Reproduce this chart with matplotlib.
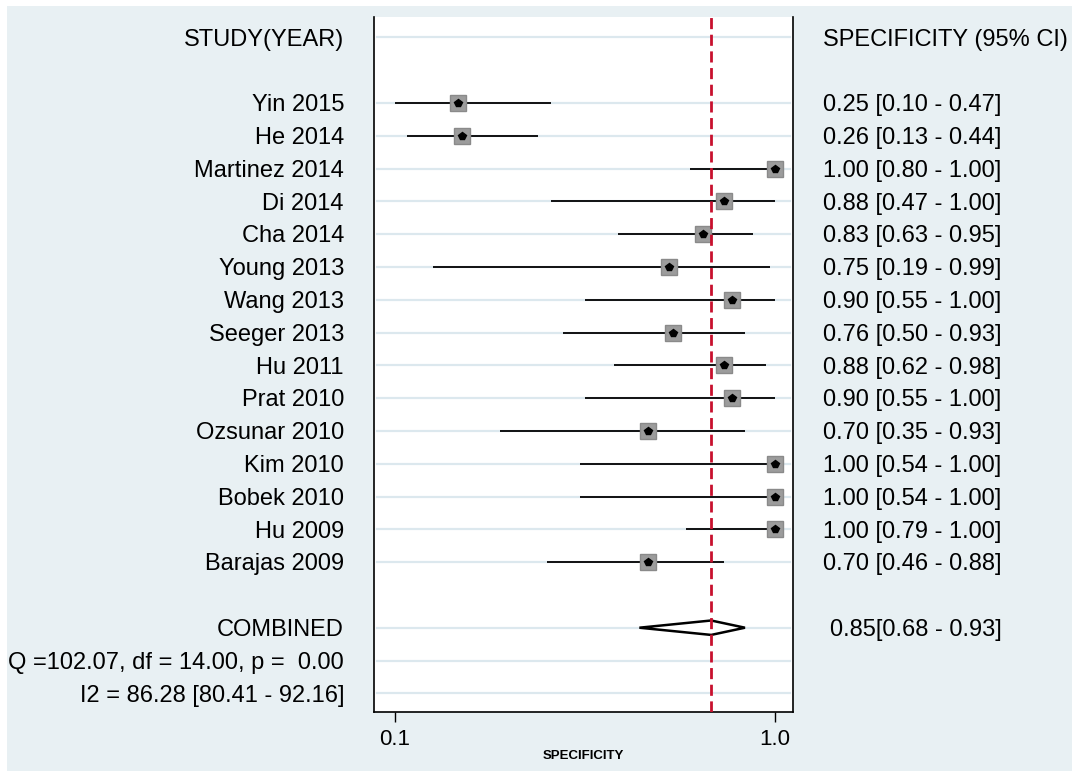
import matplotlib
matplotlib.use("Agg")
import matplotlib.pyplot as plt
from matplotlib.transforms import blended_transform_factory
from matplotlib.patches import Rectangle, Polygon

plt.rcParams['font.family'] = ['Liberation Sans', 'DejaVu Sans']

studies = ["Yin 2015", "He 2014", "Martinez 2014", "Di 2014", "Cha 2014",
           "Young 2013", "Wang 2013", "Seeger 2013", "Hu 2011", "Prat 2010",
           "Ozsunar 2010", "Kim 2010", "Bobek 2010", "Hu 2009", "Barajas 2009"]
spec = [0.25, 0.26, 1.00, 0.88, 0.83, 0.75, 0.90, 0.76, 0.88, 0.90, 0.70, 1.00, 1.00, 1.00, 0.70]
ci_lo = [0.10, 0.13, 0.80, 0.47, 0.63, 0.19, 0.55, 0.50, 0.62, 0.55, 0.35, 0.54, 0.54, 0.79, 0.46]
ci_hi = [0.47, 0.44, 1.00, 1.00, 0.95, 0.99, 1.00, 0.93, 0.98, 1.00, 0.93, 1.00, 1.00, 1.00, 0.88]
combined = 0.85
combined_lo = 0.68
combined_hi = 0.93
q_text = "Q =102.07, df = 14.00, p =  0.00"
i2_text = "I2 = 86.28 [80.41 - 92.16]"
xticks = [0.1, 1.0]
xticklabels = ["0.1", "1.0"]

W, H = 1072, 771
fig = plt.figure(figsize=(W / 100, H / 100), dpi=100)
fig.patch.set_facecolor('white')
bg = "#e8f0f3"
fig.patches.append(Rectangle((7 / W, 0), 1, 1 - 6 / H, transform=fig.transFigure,
                             facecolor=bg, edgecolor='none', zorder=-10))

L, R, T, B = 374, 793, 17, 712
ax = fig.add_axes([L / W, 1 - B / H, (R - L) / W, (B - T) / H])
ax.set_facecolor('white')

px_per_unit = (774.5 - 394.5) / 0.9
x0 = 0.1 - (394.5 - L) / px_per_unit
x1 = 1.0 + (R - 774.5) / px_per_unit
ax.set_xlim(x0, x1)
ax.set_ylim(20.57, -0.62)

rows = [2 + i for i in range(len(studies))]
comb_row, q_row, i2_row, head_row = 18, 19, 20, 0

grid_c = "#dce8ee"
for r in [head_row] + rows + [comb_row, q_row, i2_row]:
    ax.axhline(r, xmin=0.007, xmax=0.993, color=grid_c, lw=1.6, zorder=1)

ax.hlines(rows, ci_lo, ci_hi, color='black', lw=1.3, zorder=2)
ax.plot(spec, rows, ls='none', marker='s', ms=11, mfc='#9c9c9c', mec='#8a8a8a',
        mew=1.0, zorder=3)
ax.plot(spec, rows, ls='none', marker='p', ms=6, mfc='black', mec='black', zorder=4)

dh = 0.22
diamond = Polygon([(combined_lo, comb_row), (combined, comb_row - dh),
                   (combined_hi, comb_row), (combined, comb_row + dh)],
                  closed=True, facecolor='white', edgecolor='black', lw=1.8, zorder=3)
ax.add_patch(diamond)

ax.axvline(combined, color='#c8102e', lw=2.0, dashes=(4, 2), zorder=5)

for s in ['left', 'right', 'bottom']:
    ax.spines[s].set_linewidth(1.2)
    ax.spines[s].set_color('black')
ax.spines['top'].set_visible(False)
ax.set_yticks([])
ax.set_xticks(xticks)
ax.set_xticklabels(xticklabels, fontsize=16)
ax.tick_params(axis='x', length=7, width=1.0, pad=5)
ax.set_xlabel("SPECIFICITY", fontsize=9.5, fontweight='bold', labelpad=0)

fs = 17
dy = 0.07
trL = blended_transform_factory(fig.transFigure, ax.transData)
xl = 344 / W
xr = 823 / W
ax.text(xl, head_row + dy, "STUDY(YEAR)", transform=trL, ha='right', va='center', fontsize=fs)
ax.text(xr, head_row + dy, "SPECIFICITY (95% CI)", transform=trL, ha='left', va='center', fontsize=fs)
for r, name, s, lo, hi in zip(rows, studies, spec, ci_lo, ci_hi):
    ax.text(xl, r + dy, name, transform=trL, ha='right', va='center', fontsize=fs)
    ax.text(xr, r + dy, f"{s:.2f} [{lo:.2f} - {hi:.2f}]", transform=trL, ha='left',
            va='center', fontsize=fs)
ax.text(xl, comb_row + dy, "COMBINED", transform=trL, ha='right', va='center', fontsize=fs)
ax.text(830 / W, comb_row + dy, f"{combined:.2f}[{combined_lo:.2f} - {combined_hi:.2f}]",
        transform=trL, ha='left', va='center', fontsize=fs)
ax.text(xl, q_row + dy, q_text, transform=trL, ha='right', va='center', fontsize=fs)
ax.text(xl, i2_row + dy, i2_text, transform=trL, ha='right', va='center', fontsize=fs)

fig.savefig("out.png", dpi=100, facecolor=fig.get_facecolor())
